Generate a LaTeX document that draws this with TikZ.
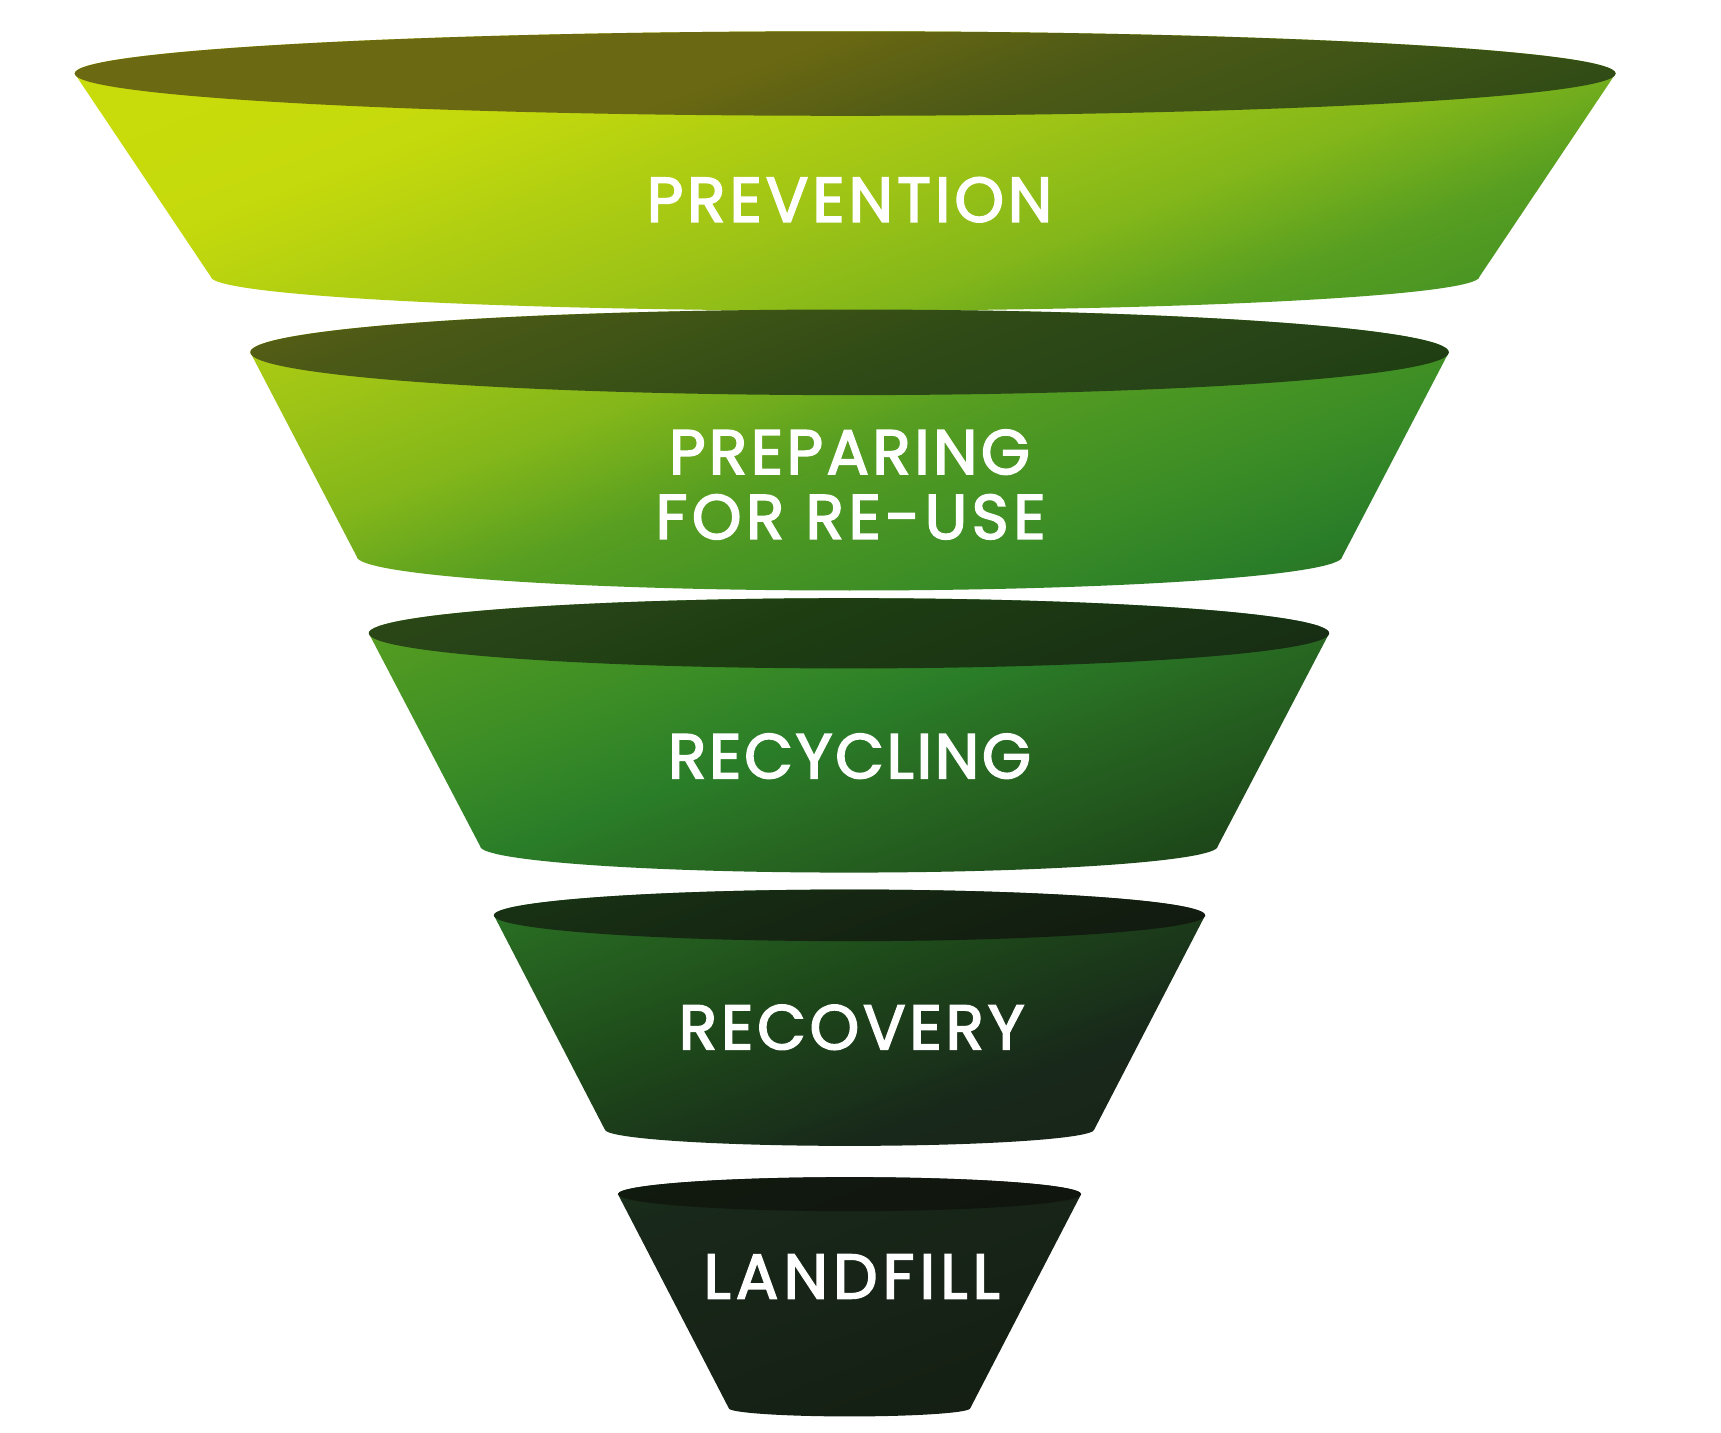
\documentclass[tikz,border=0pt]{standalone}
\usepackage{fontspec}
\setmainfont{Poppins}
\definecolor{b0}{HTML}{CCDE0A}
\definecolor{b1}{HTML}{C5DA0C}
\definecolor{b2}{HTML}{9CC316}
\definecolor{b3}{HTML}{82B61A}
\definecolor{b4}{HTML}{579E21}
\definecolor{b5}{HTML}{3A8C26}
\definecolor{b6}{HTML}{2A7D28}
\definecolor{b7}{HTML}{286A22}
\definecolor{b8}{HTML}{1E4A1A}
\definecolor{b9}{HTML}{18281A}
\definecolor{b10}{HTML}{141C11}
\definecolor{i0}{HTML}{6C6A12}
\definecolor{i1}{HTML}{6A6812}
\definecolor{i2}{HTML}{4E5A16}
\definecolor{i3}{HTML}{3E5416}
\definecolor{i4}{HTML}{2F4A16}
\definecolor{i5}{HTML}{274418}
\definecolor{i6}{HTML}{1E3E12}
\definecolor{i7}{HTML}{183014}
\definecolor{i8}{HTML}{121C10}
\definecolor{i9}{HTML}{10140E}
\definecolor{i10}{HTML}{0F120D}
% t (0..1600) -> 25 + t/32 bp
\pgfdeclarehorizontalshading{bodygrad}{100bp}{color(0bp)=(b0); color(25bp)=(b0);
 color(32.8bp)=(b1); color(39.06bp)=(b2); color(42.19bp)=(b3); color(45.31bp)=(b4);
 color(50bp)=(b5); color(52.81bp)=(b6); color(55bp)=(b7); color(59.38bp)=(b8);
 color(64.06bp)=(b9); color(75bp)=(b10); color(100bp)=(b10)}
\pgfdeclarehorizontalshading{innergrad}{100bp}{color(0bp)=(i0); color(25bp)=(i0);
 color(34.4bp)=(i1); color(37.5bp)=(i2); color(40.6bp)=(i3); color(43.75bp)=(i4);
 color(46.9bp)=(i5); color(49.4bp)=(i6); color(54.7bp)=(i7); color(60.9bp)=(i8);
 color(68.75bp)=(i9); color(75bp)=(i10); color(100bp)=(i10)}
\newcommand{\drawfunnel}[7]{%
 \begin{scope}
  \clip (#1-#3,#2) -- (#1-#6,#5) arc[start angle=180,end angle=0,x radius=#6,y radius=#7]
    -- (#1+#3,#2) arc[start angle=0,end angle=-180,x radius=#3,y radius=#4] -- cycle;
  \begin{scope}[transform canvas={rotate=-69.2}]
   \shade[shading=bodygrad] (0,-1600) rectangle (1600,1600);
  \end{scope}
 \end{scope}
 \begin{scope}
  \clip (#1,#2) ellipse[x radius=#3,y radius=#4];
  \begin{scope}[transform canvas={rotate=-69.2}]
   \shade[shading=innergrad] (0,-1600) rectangle (1600,1600);
  \end{scope}
 \end{scope}}
\tikzset{lbl/.style={text=white, inner sep=0pt, anchor=base,
  font=\fontsize{28.7}{34}\selectfont\addfontfeature{LetterSpace=#1,FakeBold=2.6}},
  lbl/.default=6}
\begin{document}
\begin{tikzpicture}[x=0.5pt,y=-0.5pt]
\useasboundingbox[fill=white] (0,0) rectangle (1568,1305);
\drawfunnel{770}{67}{702}{38.5}{252}{578}{31}
\drawfunnel{774}{321}{546}{39}{507}{449}{31}
\drawfunnel{773.5}{577}{437.5}{32}{771}{336}{24}
\drawfunnel{774}{834}{324}{23.5}{1029}{223}{15}
\drawfunnel{774}{1088}{211}{15.5}{1283}{110}{7.5}
\node[lbl=6.3] (prev) at (774,202) {PREVENTION};
\node[lbl=5.5] (prep1) at (774,432) {PREPARING};
\node[lbl=7.2] (prep2) at (775,491) {FOR RE-USE};
\node[lbl=4.4] (recy) at (774,709) {RECYCLING};
\node[lbl=6.1] (reco) at (776,956) {RECOVERY};
\node[lbl=8.2] (land) at (776,1183) {LANDFILL};
\end{tikzpicture}
\end{document}
